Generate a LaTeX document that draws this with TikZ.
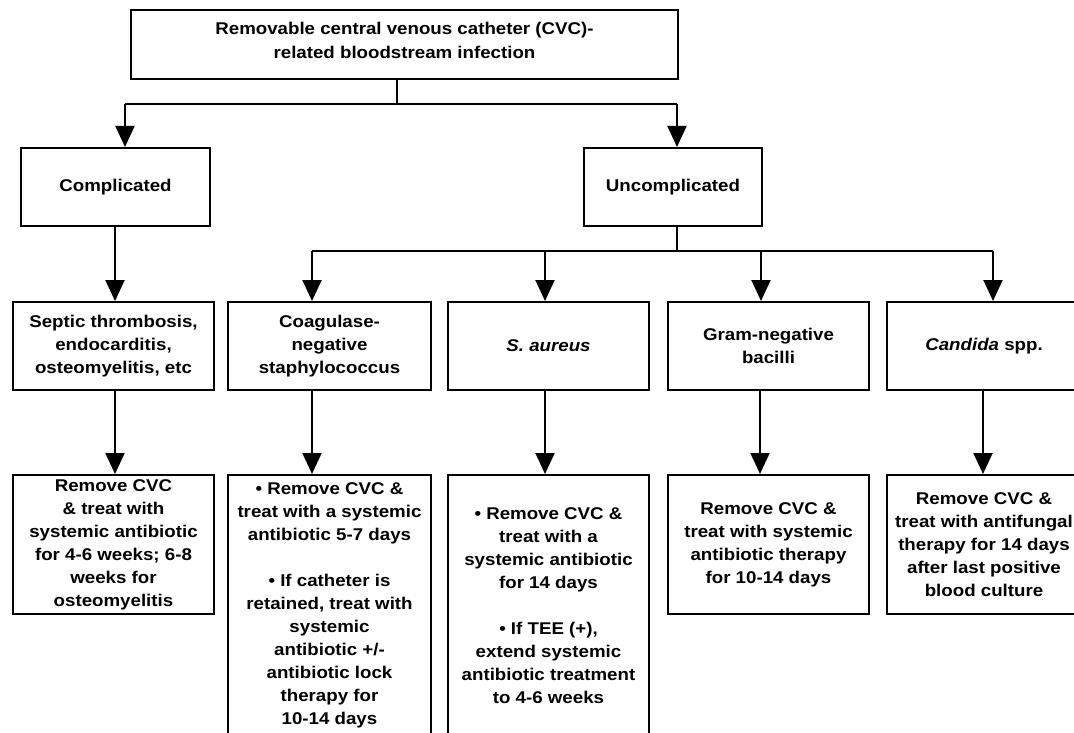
\documentclass[tikz,border=0pt]{standalone}
\usepackage{fontspec}
\setmainfont{Liberation Sans}[FakeStretch=1.1]
\usetikzlibrary{arrows.meta,calc}
\newcommand\boxfont{\bfseries\fontsize{17}{23}\selectfont}
\begin{document}
\begin{tikzpicture}[x=1pt,y=-1pt,
  lw/.style={line width=2pt},
  box/.style={draw,lw,align=center,inner sep=0pt,anchor=north west,font=\boxfont},
  txt/.style={align=center,inner sep=0pt,anchor=north,font=\boxfont},
  arr/.style={lw,-{Triangle[width=19pt,length=21pt]}}]
\useasboundingbox (0,0) rectangle (1074,733);
\fill[white] (0,0) rectangle (1074,733);
\clip (0,0) rectangle (1074,733);
% top
\node[box,minimum width=547pt,minimum height=69pt] (top) at (130,9) {};
\node[txt,anchor=center,font=\bfseries\fontsize{17}{24}\selectfont] (toptxt) at ($(top.center)+(0,-4)$)
  {Removable central venous catheter (CVC)-\\related bloodstream infection};
% level 2
\node[box,minimum width=189pt,minimum height=78pt] (comp) at (20,147) {Complicated};
\node[box,minimum width=178pt,minimum height=78pt] (unc) at (583,147) {Uncomplicated};
% level 3
\node[box,minimum width=201pt,minimum height=88pt] (sep) at (12,301) {Septic thrombosis,\\endocarditis,\\osteomyelitis, etc};
\node[box,minimum width=203pt,minimum height=88pt] (cns) at (227,301) {Coagulase-\\negative\\staphylococcus};
\node[box,minimum width=201pt,minimum height=88pt] (sau) at (447,301) {\textit{S. aureus}};
\node[box,minimum width=201pt,minimum height=88pt] (gnb) at (667,301) {Gram-negative\\bacilli};
\node[box,minimum width=194pt,minimum height=88pt] (can) at (886,301) {\textit{Candida} spp.};
% level 4
\node[box,minimum width=201pt,minimum height=139pt] (r1) at (12,474)
  {Remove CVC\\\& treat with\\systemic antibiotic\\for 4-6 weeks; 6-8\\weeks for\\osteomyelitis};
\node[box,minimum width=203pt,minimum height=300pt] (r2) at (227,474) {};
\node[txt] (t2) at ($(r2.north)+(0,8)$)
  {• Remove CVC \&\\treat with a systemic\\antibiotic 5-7 days\\[23pt]• If catheter is\\retained, treat with\\systemic\\antibiotic +/-\\antibiotic lock\\therapy for\\10-14 days};
\node[box,minimum width=201pt,minimum height=300pt] (r3) at (447,474) {};
\node[txt] (t3) at ($(r3.north)+(0,33)$)
  {• Remove CVC \&\\treat with a\\systemic antibiotic\\for 14 days\\[23pt]• If TEE (+),\\extend systemic\\antibiotic treatment\\to 4-6 weeks};
\node[box,minimum width=201pt,minimum height=139pt] (r4) at (667,474)
  {Remove CVC \&\\treat with systemic\\antibiotic therapy\\for 10-14 days};
\node[box,minimum width=194pt,minimum height=139pt] (r5) at (886,474)
  {Remove CVC \&\\treat with antifungal\\therapy for 14 days\\after last positive\\blood culture};
% connectors level 1 -> 2
\coordinate (j1) at (397,104);
\coordinate (jl) at (125,104);
\coordinate (jr) at (677,104);
\draw[lw] (top.south -| j1) -- (j1);
\draw[lw] (jl) -- (jr);
\draw[arr] (jl) -- (comp.north -| jl);
\draw[arr] (jr) -- (unc.north -| jr);
% complicated -> septic
\coordinate (k1) at (115,0);
\draw[arr] (comp.south -| k1) -- (sep.north -| k1);
% uncomplicated branch
\coordinate (j2) at (677,251);
\coordinate (b1) at (312,251);
\coordinate (b2) at (545,251);
\coordinate (b3) at (761,251);
\coordinate (b4) at (993,251);
\draw[lw] (unc.south -| j2) -- (j2);
\draw[lw] (b1) -- (b4);
\draw[arr] (b1) -- (cns.north -| b1);
\draw[arr] (b2) -- (sau.north -| b2);
\draw[arr] (b3) -- (gnb.north -| b3);
\draw[arr] (b4) -- (can.north -| b4);
% level 3 -> 4
\coordinate (d1) at (115,0);
\coordinate (d2) at (312,0);
\coordinate (d3) at (545,0);
\coordinate (d4) at (760,0);
\coordinate (d5) at (983,0);
\draw[arr] (sep.south -| d1) -- (r1.north -| d1);
\draw[arr] (cns.south -| d2) -- (r2.north -| d2);
\draw[arr] (sau.south -| d3) -- (r3.north -| d3);
\draw[arr] (gnb.south -| d4) -- (r4.north -| d4);
\draw[arr] (can.south -| d5) -- (r5.north -| d5);
\end{tikzpicture}
\end{document}
